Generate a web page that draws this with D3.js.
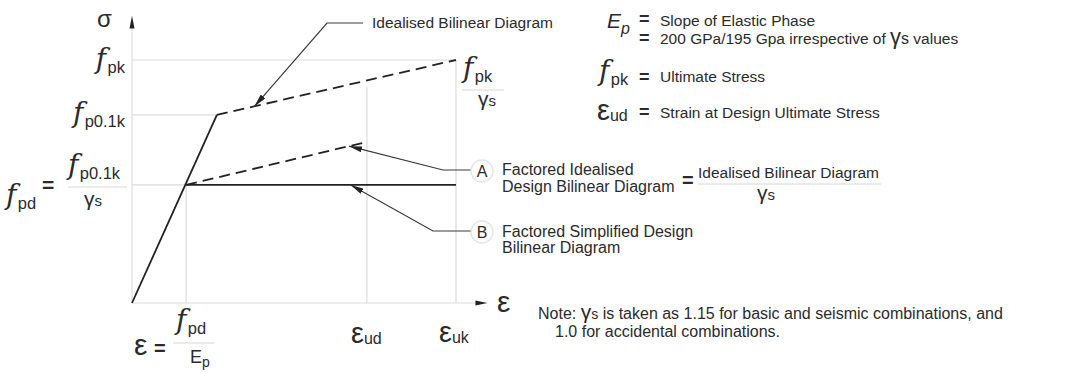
<!DOCTYPE html>
<html><head><meta charset="utf-8">
<script src="https://cdn.jsdelivr.net/npm/d3@7"></script>
<style>body{margin:0;background:#fff}svg{display:block}</style>
</head><body>
<script>
// ---- data (schematic units: strain 0..100 = εuk, stress 0..100 = fpk) ----
const strainKeys = ["fpd/Ep", "kink", "εud", "εuk"];
const strainValues = [16.7, 26.2, 72.5, 100];
const stressKeys = ["fpk", "fp0.1k", "fpd"];
const stressValues = [100, 77.4, 48.6];
const elasticStrain = [0, 26.2];
const elasticStress = [0, 77.4];
const idealisedStrain = [26.2, 100];
const idealisedStress = [77.4, 100];
const factoredStrain = [16.7, 72.5];
const factoredStress = [48.6, 66.3];
const simplifiedStrain = [16.7, 100];
const simplifiedStress = [48.6, 48.6];
const vGridTop = [48.6, 89, 100];
const hGridEnd = [100, 26.2, 16.7];

const W = 1081, H = 373;
const x = d3.scaleLinear().domain([0, 100]).range([132, 456]);
const y = d3.scaleLinear().domain([0, 100]).range([303, 60]);
const INK = "#222", TXT = "#2b2b2b", GRID = "#dcdcdc";
const SANS = "'Liberation Sans', Arial, sans-serif";
const SERIF = "'DejaVu Serif', 'Liberation Serif', serif";

const svg = d3.select("body").append("svg").attr("width", W).attr("height", H);
svg.append("rect").attr("width", W).attr("height", H).attr("fill", "#fff");

const defs = svg.append("defs");
defs.append("marker").attr("id", "ah").attr("viewBox", "0 0 13 6").attr("refX", 13).attr("refY", 3)
  .attr("markerWidth", 13).attr("markerHeight", 6).attr("markerUnits", "userSpaceOnUse").attr("orient", "auto")
  .append("path").attr("d", "M0,0 L13,3 L0,6 Z").attr("fill", INK);

const zip = (a, b) => a.map((v, i) => [v, b[i]]);
const line = d3.line().x(d => x(d[0])).y(d => y(d[1]));

// grid lines
const g = svg.append("g");
stressValues.forEach((s, i) => {
  g.append("line").attr("x1", x(0)).attr("x2", x(hGridEnd[i])).attr("y1", y(s)).attr("y2", y(s))
    .attr("stroke", GRID).attr("stroke-width", 1.2);
});
[strainValues[0], strainValues[2], strainValues[3]].forEach((e, i) => {
  g.append("line").attr("x1", x(e)).attr("x2", x(e)).attr("y1", y(0)).attr("y2", y(vGridTop[i]))
    .attr("stroke", GRID).attr("stroke-width", 1.2);
});
// axes
g.append("line").attr("x1", x(0)).attr("x2", x(0)).attr("y1", y(0)).attr("y2", y(113))
  .attr("stroke", GRID).attr("stroke-width", 1.2);
g.append("line").attr("x1", x(0)).attr("x2", x(106)).attr("y1", y(0)).attr("y2", y(0))
  .attr("stroke", GRID).attr("stroke-width", 1.2);
// axis arrowheads
g.append("path").attr("d", `M${x(0)},${y(118.2)} L${x(0) + 2.5},${y(113)} L${x(0) - 2.5},${y(113)} Z`).attr("fill", INK);
g.append("path").attr("d", `M${x(109.7)},${y(0)} L${x(106)},${y(0) - 2.5} L${x(106)},${y(0) + 2.5} Z`).attr("fill", INK);

// curves
svg.append("path").attr("d", line(zip(elasticStrain, elasticStress))).attr("stroke", INK).attr("stroke-width", 1.8).attr("fill", "none");
svg.append("path").attr("d", line(zip(idealisedStrain, idealisedStress))).attr("stroke", INK).attr("stroke-width", 1.8)
  .attr("stroke-dasharray", "11,6").attr("fill", "none");
svg.append("path").attr("d", line(zip(factoredStrain, factoredStress))).attr("stroke", INK).attr("stroke-width", 1.8)
  .attr("stroke-dasharray", "11,6").attr("fill", "none");
svg.append("path").attr("d", line(zip(simplifiedStrain, simplifiedStress))).attr("stroke", INK).attr("stroke-width", 1.6).attr("fill", "none");

// leaders
function onLine(xs, ys, e) { const t = (e - xs[0]) / (xs[1] - xs[0]); return [x(e), y(ys[0] + t * (ys[1] - ys[0]))]; }
function leader(tip, pts) {
  const p = [...pts, tip];
  svg.append("path").attr("d", d3.line()(p)).attr("stroke", "#3a3a3a").attr("stroke-width", 1.2)
    .attr("fill", "none").attr("marker-end", "url(#ah)");
}
leader(onLine(idealisedStrain, idealisedStress, 37.8), [[363, 23], [327, 23]]);
leader(onLine(factoredStrain, factoredStress, 67.0), [[471, 170], [443, 170]]);
leader(onLine(simplifiedStrain, simplifiedStress, 67.5), [[471, 231], [433, 231]]);

// ---- text helpers ----
function txt(xp, yp, opts = {}) {
  const t = svg.append("text").attr("x", xp).attr("y", yp).attr("fill", TXT)
    .attr("font-family", opts.family || SANS).attr("font-size", opts.size || 15.5)
    .attr("text-anchor", opts.anchor || "start");
  if (opts.bold) t.attr("font-weight", "bold");
  return t;
}
function span(t, s, opts = {}) {
  const sp = t.append("tspan").text(s).attr("font-family", opts.family || SANS);
  if (opts.size) sp.attr("font-size", opts.size);
  if (opts.italic) sp.attr("font-style", "italic");
  if (opts.dy) sp.attr("dy", opts.dy);
  return sp;
}
// yp = baseline of the subscript
function fsub(xp, yp, sub, anchor, fs = 28, ss = 16.5) {
  const t = txt(xp, yp, { anchor });
  span(t, "f", { family: SERIF, size: fs, italic: true, dy: -5 });
  span(t, "\u200A" + sub, { size: ss, dy: 5 });
  return t;
}
function eps(xp, yp, sub, anchor, es = 29, ss = 16) {
  const t = txt(xp, yp, { anchor });
  span(t, "ε", { size: es });
  if (sub) span(t, sub, { size: ss, dy: 1 });
  return t;
}
function gammaS(xp, yp, anchor, gsz = 21, ssz = 15) {
  const t = txt(xp, yp, { anchor });
  span(t, "γ", { size: gsz }); span(t, "s", { size: ssz });
  return t;
}
function fracLine(x1, x2, yp) {
  svg.append("line").attr("x1", x1).attr("x2", x2).attr("y1", yp).attr("y2", yp).attr("stroke", "#d6d6d6").attr("stroke-width", 1);
}
function eq(xp, yp, sz = 21) { txt(xp, yp, { size: sz, bold: true }).text("="); }

// axis titles
txt(97, 27, { size: 24 }).text("σ");
txt(497, 312, { size: 30 }).text("ε");

// stress labels (left)
fsub(125, 73, "pk", "end");
fsub(125, 127, "p0.1k", "end");
fsub(6, 209, "pd", "start");
eq(42, 192);
fsub(68, 179, "p0.1k", "start");
fracLine(68, 127, 187);
gammaS(93, 206, "middle");

// right fraction fpk / γs
fsub(463, 82, "pk", "start");
fracLine(462, 504, 90);
gammaS(487, 106, "middle");

// strain labels (bottom)
eps(134, 355, null, "start", 30);
eq(154, 355, 20);
fsub(176, 334, "pd", "start");
fracLine(173, 214, 343);
(function () { const t = txt(190, 363); span(t, "E", { size: 18 }); span(t, "p", { size: 14, dy: 4 }); })();
eps(351, 343, "ud", "start");
eps(439, 342, "uk", "start");

// annotation labels
txt(372, 28, { size: 15.5 }).text("Idealised Bilinear Diagram");
function badge(cx, cy, letter) {
  svg.append("circle").attr("cx", cx).attr("cy", cy).attr("r", 11).attr("fill", "#fff").attr("stroke", "#e4e4e4").attr("stroke-width", 1.3);
  txt(cx, cy + 5.5, { size: 16, anchor: "middle" }).text(letter);
}
badge(482, 171, "A");
txt(502, 175, { size: 16 }).text("Factored Idealised");
txt(502, 192, { size: 16 }).text("Design Bilinear Diagram");
eq(682, 187, 20);
txt(698, 178, { size: 15.5 }).text("Idealised Bilinear Diagram");
fracLine(698, 881, 184);
gammaS(766, 200, "middle");
badge(482, 232, "B");
txt(502, 237, { size: 16 }).text("Factored Simplified Design");
txt(502, 253, { size: 16 }).text("Bilinear Diagram");

// legend (top right)
(function () { const t = txt(607, 28); span(t, "E", { size: 21, italic: true }); span(t, "p", { size: 16, italic: true, dy: 6 }); })();
eq(639, 25, 18);
txt(660, 26).text("Slope of Elastic Phase");
eq(639, 44, 18);
(function () {
  const t = txt(660, 44);
  span(t, "200 GPa/195 Gpa irrespective of  ");
  span(t, "γ", { size: 22 }); span(t, "s", { size: 16 });
  span(t, "  values", { size: 15.5 });
})();
fsub(599, 85, "pk", "start");
eq(639, 83, 18);
txt(660, 82).text("Ultimate Stress");
eps(597, 120, "ud", "start");
eq(639, 118, 18);
txt(660, 118).text("Strain at Design Ultimate Stress");

// note
(function () {
  const t = txt(538, 319, { size: 16 });
  span(t, "Note:  ");
  span(t, "γ", { size: 21 }); span(t, "s", { size: 14 });
  span(t, "  is taken as 1.15 for basic and seismic combinations, and", { size: 16 });
})();
txt(555, 337, { size: 16 }).text("1.0 for accidental combinations.");
</script>
</body></html>
